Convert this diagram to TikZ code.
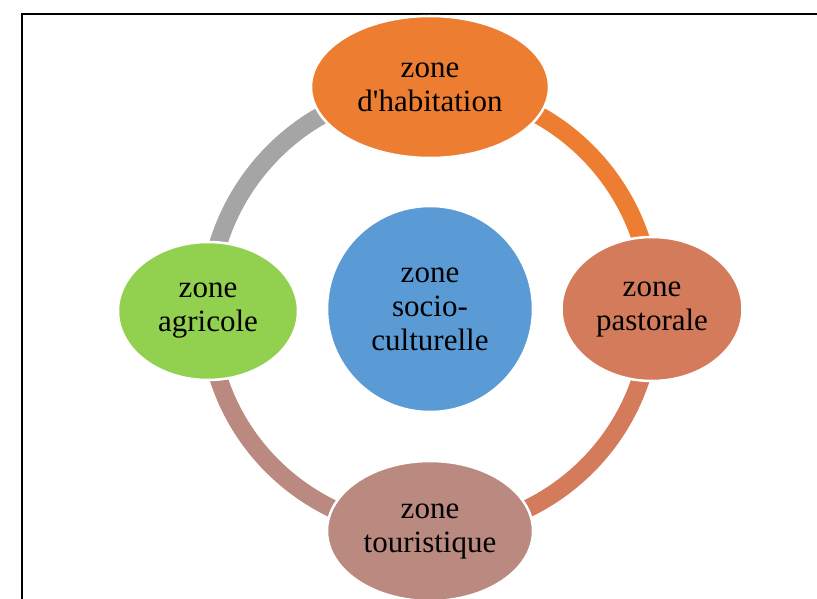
\documentclass[tikz,border=0pt]{standalone}
\usepackage{fontspec}
\setmainfont{Liberation Serif}[Ligatures=TeXOff]
\usetikzlibrary{shapes.geometric,backgrounds,positioning}
\definecolor{habit}{HTML}{ED7D31}
\definecolor{pasto}{HTML}{D37B5B}
\definecolor{touri}{HTML}{BA8A80}
\definecolor{agri}{HTML}{92D050}
\definecolor{socio}{HTML}{5B9BD5}
\definecolor{ringgray}{HTML}{A5A5A5}

\begin{document}
\begin{tikzpicture}[
        x=1pt, y=1pt,
        every node/.style={font=\fontsize{31}{34}\selectfont},
        zone/.style={ellipse, draw=white, line width=2.5pt, align=center, inner sep=0pt},
        ring/.style={line width=18pt}
    ]
        \useasboundingbox (0,0) rectangle (817,598);
        \draw[line width=2pt] (840,584) -- (22,584) -- (22,-20);
        \node[zone, circle, fill=socio, minimum size=206pt] (soc) at (430,289) {zone\\socio-\\culturelle};
        \node[zone, fill=habit, minimum width=238pt, minimum height=142pt] (hab) at (430,511) {zone\\d'habitation};
        \node[zone, fill=pasto, minimum width=181pt, minimum height=144pt] (past) at (652,289) {zone\\pastorale};
        \node[zone, fill=touri, minimum width=206pt, minimum height=140pt] (tour) at (430,67) {zone\\touristique};
        \node[zone, fill=agri, minimum width=180pt, minimum height=138pt] (agr) at (208,287) {zone\\agricole};
        \begin{scope}[on background layer]
            \draw[ring, draw=habit] (hab.center) to[out=0, in=90] (past.center);
            \draw[ring, draw=pasto] (past.center) to[out=-90, in=0] (tour.center);
            \draw[ring, draw=touri] (tour.center) to[out=180, in=-90] (agr.center);
            \draw[ring, draw=ringgray] (agr.center) to[out=90, in=180] (hab.center);
        \end{scope}
    \end{tikzpicture}
\end{document}
